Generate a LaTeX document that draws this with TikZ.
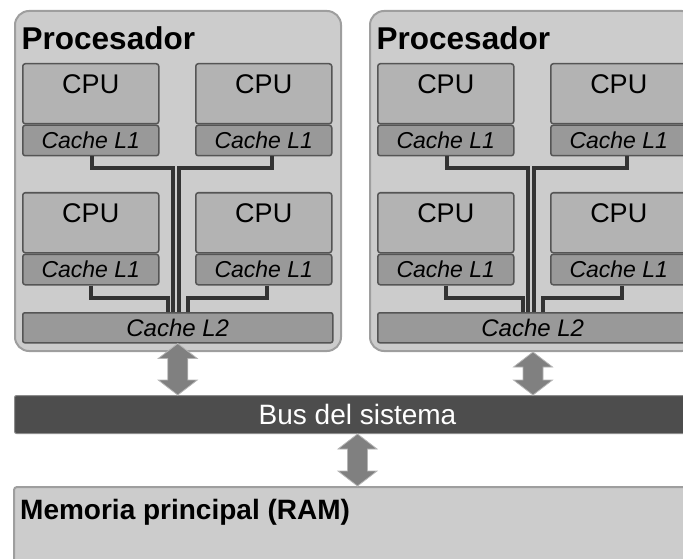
\documentclass[tikz,border=0pt]{standalone}
\usepackage{fontspec}
\setmainfont{Liberation Sans}
\usetikzlibrary{calc}

\definecolor{procfill}{HTML}{CCCCCC}
\definecolor{procline}{HTML}{9E9E9E}
\definecolor{cpufill}{HTML}{B3B3B3}
\definecolor{cachefill}{HTML}{999999}
\definecolor{boxline}{HTML}{555555}
\definecolor{wire}{HTML}{333333}
\definecolor{busfill}{HTML}{4D4D4D}
\definecolor{busline}{HTML}{8C8C8C}
\definecolor{arrowfill}{HTML}{808080}
\definecolor{arrowline}{HTML}{B5B5B5}

\tikzset{
  procbox/.style={draw=procline, fill=procfill, line width=2pt, rounded corners=14pt,
    inner sep=0pt, anchor=north west, minimum width=326pt, minimum height=340pt},
  proctitle/.style={anchor=base west, inner sep=0pt, font=\fontsize{31.5}{34}\selectfont\bfseries},
  cpubox/.style={draw=boxline, fill=cpufill, line width=1.5pt, rounded corners=2.5pt,
    inner sep=0pt, anchor=north west, minimum width=136pt, minimum height=60pt,
    text height=30pt, text depth=30pt, font=\fontsize{27}{30}\selectfont},
  l1box/.style={draw=boxline, fill=cachefill, line width=1.5pt, rounded corners=2.5pt,
    inner sep=0pt, anchor=north, minimum width=136pt, minimum height=30.5pt,
    font=\fontsize{23}{26}\selectfont\itshape},
  l2box/.style={draw=boxline, fill=cachefill, line width=1.5pt, rounded corners=2pt,
    inner sep=0pt, anchor=north west, minimum width=310pt, minimum height=30pt,
    font=\fontsize{24}{27}\selectfont\itshape},
  link/.style={draw=wire, line width=4pt},
  busbox/.style={draw=busline, fill=busfill, line width=1pt, rounded corners=2pt,
    inner sep=0pt, anchor=north west, minimum width=686pt, minimum height=38pt,
    text=white, font=\fontsize{28}{30}\selectfont},
  rambox/.style={draw=procline, fill=procfill, line width=2pt, rounded corners=3pt,
    inner sep=0pt, anchor=north west, minimum width=700pt, minimum height=120pt},
  ramtitle/.style={anchor=base west, inner sep=0pt, font=\fontsize{28}{32}\selectfont\bfseries},
  dbl/.style={fill=arrowfill, draw=arrowline, line width=0.8pt, line join=miter},
}

% two-headed block arrow from #1 (top tip) to #2 (bottom tip)
\newcommand\bothways[2]{%
  \draw[dbl] (#1) -- ($(#1)+(19.5,15)$) -- ($(#1)+(10,15)$) -- ($(#2)+(10,-15)$)
    -- ($(#2)+(19.5,-15)$) -- (#2) -- ($(#2)+(-19.5,-15)$) -- ($(#2)+(-10,-15)$)
    -- ($(#1)+(-10,15)$) -- ($(#1)+(-19.5,15)$) -- cycle;}

\begin{document}
\begin{tikzpicture}[x=1pt, y=-1pt]
  \useasboundingbox (0,0) rectangle (683,559);
  \clip (0,0) rectangle (683,559);

  \foreach \p/\dx in {a/0, b/355} {
    \node[procbox] (\p-proc) at (14+\dx,10) {};
    \node[proctitle] (\p-title) at (21.5+\dx,49.5) {Procesador};

    \node[cpubox] (\p-cpua) at (22+\dx,63) {CPU};
    \node[l1box] (\p-l1a) at (\p-cpua.south) {Cache L1};
    \node[cpubox] (\p-cpub) at (195+\dx,63) {CPU};
    \node[l1box] (\p-l1b) at (\p-cpub.south) {Cache L1};
    \node[cpubox] (\p-cpuc) at (22+\dx,192) {CPU};
    \node[l1box] (\p-l1c) at (\p-cpuc.south) {Cache L1};
    \node[cpubox] (\p-cpud) at (195+\dx,192) {CPU};
    \node[l1box] (\p-l1d) at (\p-cpud.south) {Cache L1};

    \node[l2box] (\p-l2) at (22+\dx,312) {Cache L2};

    % bends of the four L1 -> L2 lines
    \coordinate (\p-ja) at (172.7+\dx,168);
    \coordinate (\p-jb) at (179.3+\dx,168);
    \coordinate (\p-jc) at (167.8+\dx,297.5);
    \coordinate (\p-jd) at (187.8+\dx,297.5);

    \draw[link] ([xshift=1pt]\p-l1a.south) |- (\p-ja) -- (\p-ja |- \p-l2.north);
    \draw[link] ([xshift=8.5pt]\p-l1b.south) |- (\p-jb) -- (\p-jb |- \p-l2.north);
    \draw[link] (\p-l1c.south) |- (\p-jc) -- (\p-jc |- \p-l2.north);
    \draw[link] ([xshift=3.5pt]\p-l1d.south) |- (\p-jd) -- (\p-jd |- \p-l2.north);
  }

  \node[busbox] (bus) at (14,395) {Bus del sistema};
  \node[rambox] (ram) at (13,486) {};
  \node[ramtitle] (ramname) at (20,519) {Memoria principal (RAM)};

  \coordinate (busa) at (a-l2.south |- bus.north);
  \coordinate (busb) at (b-proc.south |- bus.north);
  \coordinate (ramtop) at (bus.south |- ram.north);

  \bothways{a-l2.south}{busa}
  \bothways{b-proc.south}{busb}
  \bothways{bus.south}{ramtop}
\end{tikzpicture}
\end{document}
